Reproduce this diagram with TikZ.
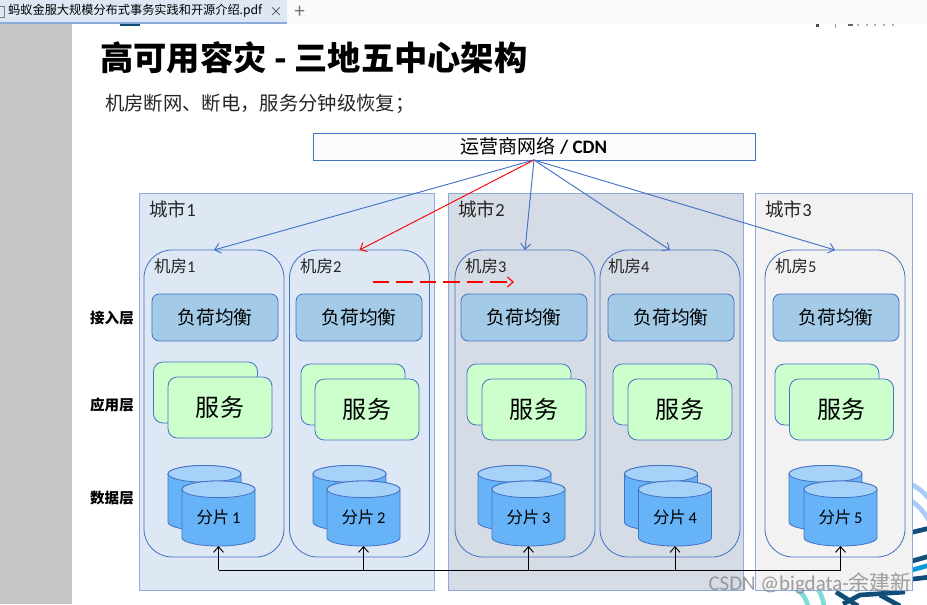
\documentclass[tikz,border=0pt]{standalone}
\usepackage{fontspec}
\setmainfont{Carlito}
\newfontfamily\cjk{Noto Sans CJK SC}
\newcommand{\cn}[1]{{\cjk #1}}
\usetikzlibrary{arrows.meta,calc}
\definecolor{linkblue}{HTML}{4472C4}
\definecolor{cityedge}{HTML}{8EAADB}
\definecolor{cityone}{HTML}{DEE8F5}
\definecolor{citytwo}{HTML}{D6DCE5}
\definecolor{citythree}{HTML}{F2F2F2}
\definecolor{lbfill}{HTML}{A3CBE8}
\definecolor{svcfill}{HTML}{CCFFCC}
\definecolor{dbbody}{HTML}{66B3F7}
\definecolor{dbtop}{HTML}{A6D2FA}
\definecolor{arcblue}{HTML}{A9CBF7}
\definecolor{arcdark}{HTML}{104E78}
\definecolor{arccyan}{HTML}{0C9BD8}
\definecolor{arcteal}{HTML}{7FDCD8}
\tikzset{
	citybox/.style={draw=cityedge,line width=0.85pt,anchor=north west,minimum height=11.91cm,outer sep=0pt},
	roombox/.style={draw=linkblue,line width=0.7pt,rounded corners=0.84cm,minimum width=4.2cm,minimum height=9.21cm,outer sep=0pt},
	lbbox/.style={draw=linkblue,line width=0.7pt,fill=lbfill,rounded corners=0.22cm,minimum width=3.78cm,minimum height=1.41cm,outer sep=0pt,font=\fontsize{16}{18}\selectfont\cjk},
	svcbox/.style={draw=linkblue,line width=0.7pt,fill=svcfill,rounded corners=0.28cm,minimum width=3.12cm,minimum height=1.83cm,outer sep=0pt,font=\fontsize{20.5}{22}\selectfont\cjk},
	dbline/.style={draw=linkblue,line width=0.7pt},
	dbtext/.style={minimum width=2.19cm,minimum height=1.74cm,inner sep=0pt,outer sep=0pt,font=\fontsize{14}{15}\selectfont},
	pics/dbcan/.style={code={
		\draw[dbline,fill=dbbody] (-36.5,-24.2) -- (-36.5,24.2) arc[start angle=180,end angle=360,x radius=1.095cm,y radius=0.25cm] -- (36.5,-24.2) arc[start angle=0,end angle=180,x radius=1.095cm,y radius=0.25cm] -- cycle;
		\draw[dbline,fill=dbtop] (0,-24.2) ellipse[x radius=1.095cm,y radius=0.25cm];
	}},
	citylabel/.style={anchor=west,inner sep=0pt,text=black!85,font=\fontsize{15.8}{18}\selectfont},
	roomlabel/.style={anchor=west,inner sep=0pt,text=black!85,font=\fontsize{14}{16}\selectfont},
	layerlabel/.style={inner sep=0pt,font=\fontsize{12.4}{14}\selectfont\cjk\bfseries},
	link/.style={linkblue,line width=0.8pt,->},
	arc/.style={line width=4pt},
}
\begin{document}
\begin{tikzpicture}[x=0.03cm,y=-0.03cm,>={Straight Barb[length=1.7mm,width=3mm]}]
	\useasboundingbox (0,0) rectangle (927,604);
	\begin{scope}
		\clip (0,0) rectangle (927,604);
		%slide background
		\draw[arc,arcblue] (905,482) .. controls (915,485) and (923,491) .. (930,500);
		\draw[arc,arcblue] (905,497) .. controls (915,502) and (923,510) .. (930,522);
		\draw[arc,arcdark] (905,534) -- (930,528);
		\draw[arc,arcdark] (905,563) -- (930,556);
		\draw[arc,arccyan] (905,572) -- (930,565);
		\draw[arc,arcdark] (905,580) -- (930,577);
		\draw[arc,arcteal] (795,588) .. controls (802,592) and (806,598) .. (808,606);
		\draw[arc,arcteal] (817,588) .. controls (820,592) and (823,598) .. (824,606);
		\draw[arc,arcdark] (836,592) -- (858,606);
		\draw[arc,arcdark] (843,604) -- (860,595) -- (905,592);
		\draw[arc,arcdark] (880,595) -- (900,606);
		%window
		\fill[gray!45] (0,24) rectangle (72,604);
		\fill[black!2] (0,0) rectangle (927,24);
		\fill[cityone] (0,0) rectangle (287,22);
		\fill[cityedge] (0,22) rectangle (287,24);
		\draw[black!50,line width=0.6pt] (-1,6) rectangle (4,17);
		\fill[arcdark] (120,24) rectangle (140,26);
		\fill[black!70] (816,24) rectangle (819,27);
		\fill[black!40] (835,24) rectangle (836,28);
		\fill[black!60] (848,24) rectangle (853,26);
		\foreach \x in {857,866,874,883,892}{
			\fill[black!30] (\x,24) rectangle +(2,2);}
	\end{scope}
	\node[anchor=west,inner sep=0pt,font=\fontsize{10.4}{12}\selectfont\cjk] (tabname) at (8,11) {蚂蚁金服大规模分布式事务实践和开源介绍.pdf};
	\node[inner sep=0pt,text=black!70,font=\fontsize{11}{12}\selectfont\cjk] (tabclose) at (276,12) {×};
	\node[inner sep=0pt,text=black!55,font=\fontsize{17}{18}\selectfont\cjk] (tabplus) at (300,12) {+};
	\node[anchor=west,inner sep=0pt,font=\fontsize{28.4}{30}\selectfont\cjk\bfseries] (title) at (100,58) {高可用容灾 - 三地五中心架构};
	\node[anchor=west,inner sep=0pt,text=black!85,font=\fontsize{16.5}{18}\selectfont\cjk] (subtitle) at (105,104) {机房断网、断电\char"FF0C 服务分钟级恢复\char"FF1B};
	\node[draw=linkblue,line width=0.8pt,fill=blue!1,minimum width=13.26cm,minimum height=0.81cm,outer sep=0pt,inner sep=0pt,font=\fontsize{16.2}{18}\selectfont] (cdn) at (534,146.5) {\cn{运营商网络} \textbf{/ CDN}};
	%cities
	\node[citybox,fill=cityone,minimum width=8.85cm] (city1) at (139.5,193) {};
	\node[citybox,fill=citytwo,minimum width=8.85cm] (city2) at (448.5,193) {};
	\node[citybox,fill=citythree,minimum width=4.71cm] (city3) at (755.5,193) {};
	\foreach \n in {1,2,3}{
		\node[citylabel] (citytext\n) at ($(city\n.north west)+(9.5,16.5)$) {\cn{城市}\n};}
	%rooms
	\foreach \n/\rx/\lbx/\backx/\backy/\frontx/\frontd/\backd/\labx in {
		1/214/215/205.5/392.5/220/218.5/204.5/154,
		2/359.5/359/353/394.5/367/363.5/349.5/300,
		3/525/524/519/394.5/534/528.5/514.5/465,
		4/670/671/665/394.5/680/675/661/608,
		5/835/836/827/394.5/841.5/840.5/825.5/775}{
		\node[roombox] (room\n) at (\rx,403.5) {};
		\node[roomlabel] (roomtext\n) at (\labx,266) {\cn{机房}\n};
		\node[lbbox] (lb\n) at (\lbx,317.5) {负荷均衡};
		\node[svcbox] (svcback\n) at (\backx,\backy) {};
		\node[svcbox] (svc\n) at (\frontx,\backy+15) {服务};
		\pic at (\backd,498) {dbcan};
		\pic at (\frontd,513.5) {dbcan};
		\node[dbtext] (db\n) at (\frontd,517) {\cn{分片}\,\n};
	}
	%layers
	\node[layerlabel] (layerin) at (112,318) {接入层};
	\node[layerlabel] (layerapp) at (112,405) {应用层};
	\node[layerlabel] (layerdata) at (112,498) {数据层};
	%links
	\draw[link] (cdn.south) -- (room1.north);
	\draw[red,line width=0.8pt,->] (cdn.south) -- (room2.north);
	\draw[link] (cdn.south) -- (room3.north);
	\draw[link] (cdn.south) -- (room4.north);
	\draw[link] (cdn.south) -- (room5.north);
	\coordinate (failfrom) at (373,282);
	\coordinate (failto) at (514,282);
	\draw[red,line width=1pt,dash pattern=on 14pt off 6pt,->] (failfrom) -- (failto);
	%data sync
	\coordinate (bus) at (0,570);
	\draw[line width=0.8pt] (bus -| db1.south) -- (bus -| db5.south);
	\foreach \n/\off in {1/0,2/0,3/2,4/0,5/0}{
		\draw[line width=0.8pt,->,xshift=\off*0.03cm] (bus -| db\n.south) -- (db\n.south);}
	\node[anchor=east,inner sep=0pt,text=gray,opacity=0.75,font=\fontsize{17.9}{19}\selectfont] (mark) at (912,583) {CSDN @bigdata-\cn{余建新}};
\end{tikzpicture}
\end{document}
